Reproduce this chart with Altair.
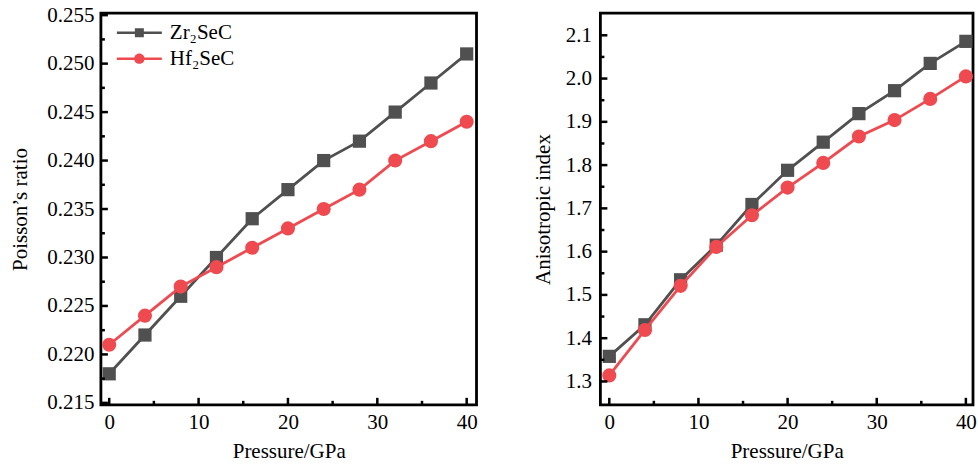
import altair as alt
import pandas as pd

# ---------------- data ----------------
pressure = [0, 4, 8, 12, 16, 20, 24, 28, 32, 36, 40]
zr_poisson = [0.218, 0.222, 0.226, 0.230, 0.234, 0.237, 0.240, 0.242, 0.245, 0.248, 0.251]
hf_poisson = [0.221, 0.224, 0.227, 0.229, 0.231, 0.233, 0.235, 0.237, 0.240, 0.242, 0.244]
zr_aniso = [1.358, 1.431, 1.535, 1.615, 1.709, 1.788, 1.853, 1.919, 1.972, 2.035, 2.086]
hf_aniso = [1.314, 1.419, 1.521, 1.611, 1.684, 1.748, 1.805, 1.866, 1.904, 1.953, 2.005]
series_names = ["Zr₂SeC", "Hf₂SeC"]

x_major = [0, 10, 20, 30, 40]
x_minor = [5, 15, 25, 35]
poisson_major = [0.215, 0.220, 0.225, 0.230, 0.235, 0.240, 0.245, 0.250, 0.255]
poisson_minor = [0.2175, 0.2225, 0.2275, 0.2325, 0.2375, 0.2425, 0.2475, 0.2525]
aniso_major = [1.3, 1.4, 1.5, 1.6, 1.7, 1.8, 1.9, 2.0, 2.1]
aniso_minor = [1.35, 1.45, 1.55, 1.65, 1.75, 1.85, 1.95, 2.05]

# ---------------- styles ----------------
FONT = "Liberation Serif"
series_colors = ["#505050", "#ee4a50"]
series_shapes = ["square", "circle"]
series_sizes = [175, 200]
legend_paths = [
    "M-2.25,-0.13L2.25,-0.13L2.25,0.13L-2.25,0.13Z M-0.45,-0.45L0.45,-0.45L0.45,0.45L-0.45,0.45Z",
    "M-2.25,-0.13L2.25,-0.13L2.25,0.13L-2.25,0.13Z M-0.52,0A0.52,0.52 0 1,1 0.52,0A0.52,0.52 0 1,1 -0.52,0Z",
]


def panel(zr, hf, ytitle, ydomain, xdomain, ymajor, yminor, yfmt, W, H, lab_pad, title_pad):
    df = pd.DataFrame({
        "p": pressure + pressure,
        "v": zr + hf,
        "s": [series_names[0]] * len(pressure) + [series_names[1]] * len(pressure),
    })
    x = alt.X("p:Q", scale=alt.Scale(domain=xdomain, nice=False, zero=False),
              axis=alt.Axis(values=x_major, title="Pressure/GPa", ticks=False, domain=False,
                            grid=False, labelPadding=7, titlePadding=8, format="d"))
    y = alt.Y("v:Q", scale=alt.Scale(domain=ydomain, nice=False, zero=False),
              axis=alt.Axis(values=ymajor, format=yfmt, title=ytitle, ticks=False, domain=False,
                            grid=False, labelPadding=lab_pad, titlePadding=title_pad))
    base = alt.Chart(df)
    layers = []
    for name, color, shape, size in zip(series_names, series_colors, series_shapes, series_sizes):
        sub = base.transform_filter(alt.datum.s == name)
        layers.append(sub.mark_line(color=color, strokeWidth=2.8).encode(x=x, y=y))
        layers.append(sub.mark_point(filled=True, shape=shape, size=size, color=color,
                                     opacity=1).encode(x=x, y=y))

    # tick marks drawn inward
    xmaj = alt.Chart(pd.DataFrame({"p": x_major})).mark_rule(color="black", strokeWidth=2.5).encode(
        x=x, y=alt.value(H), y2=alt.value(H - 7))
    xmin = alt.Chart(pd.DataFrame({"p": x_minor})).mark_rule(color="black", strokeWidth=2.5).encode(
        x=x, y=alt.value(H), y2=alt.value(H - 4))
    ymaj = alt.Chart(pd.DataFrame({"v": ymajor})).mark_rule(color="black", strokeWidth=2.5).encode(
        y=y, x=alt.value(0), x2=alt.value(7))
    ymin = alt.Chart(pd.DataFrame({"v": yminor})).mark_rule(color="black", strokeWidth=2.5).encode(
        y=y, x=alt.value(0), x2=alt.value(4))

    leg_def = alt.Legend(title=None, orient="none", legendX=28, legendY=9, padding=0,
                         labelFont=FONT, labelFontSize=21, labelColor="black", labelOffset=20,
                         symbolSize=400, symbolStrokeWidth=0, rowPadding=4, labelLimit=0)
    leg = base.transform_filter("false").mark_point(filled=True, size=400, opacity=1).encode(
        color=alt.Color("s:N", scale=alt.Scale(domain=series_names, range=series_colors), legend=leg_def),
        shape=alt.Shape("s:N", scale=alt.Scale(domain=series_names, range=legend_paths), legend=leg_def),
    )
    return alt.layer(*layers, xmaj, xmin, ymaj, ymin, leg).properties(width=W, height=H)


left = panel(zr_poisson, hf_poisson, "Poisson’s ratio", [0.2148, 0.2552], [-0.93, 41.1],
             poisson_major, poisson_minor, ".3f", 376, 392, 7, 16)
right = panel(zr_aniso, hf_aniso, "Anisotropic index", [1.246, 2.151], [-1.0, 40.8],
              aniso_major, aniso_minor, ".1f", 373, 392, 9, 12)

chart = alt.hconcat(left, right, spacing=51).properties(
    padding={"left": 8, "top": 2, "right": 0, "bottom": 0}
).configure(background="white").configure_view(
    stroke="black", strokeWidth=2.8
).configure_axis(
    labelFont=FONT, titleFont=FONT, labelFontSize=21, titleFontSize=21,
    labelColor="black", titleColor="black", titleFontWeight="normal",
)

chart.save("out.html", embed_options={"renderer": "svg", "actions": False})
